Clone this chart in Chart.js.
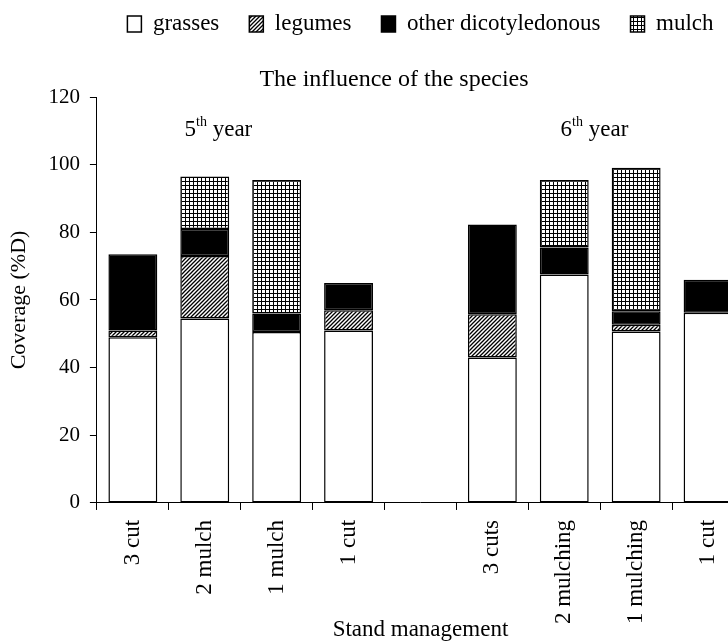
<!DOCTYPE html>
<html>
<head>
<meta charset="utf-8">
<script src="https://cdn.jsdelivr.net/npm/chart.js@4.4.1/dist/chart.umd.min.js"></script>
<style>
  html, body { margin: 0; padding: 0; background: #fff; overflow: hidden; }
  #wrap { width: 728px; height: 644px; overflow: hidden; }
</style>
</head>
<body>
<div id="wrap"><canvas id="chart" width="784" height="644"></canvas></div>
<script>
// Stand management categories (5th year, gap, 6th year)
const categories = ['3 cut', '2 mulch', '1 mulch', '1 cut', '', '3 cuts', '2 mulching', '1 mulching', '1 cut'];

// coverage (%D) per species group
const grasses    = [49,   54.5, 50.5, 51,  null, 43,   67.5, 50.7, 56.2];
const legumes    = [2,    18.5, null, 6,   null, 12.8, null, 2,    null];
const otherDicot = [22.5, 8,    5.5,  8,   null, 26.5, 8,    4,    9.8];
const mulch      = [null, 15.5, 39.5, null, null, null, 20,  42.4, null];

const yTicks = [0, 20, 40, 60, 80, 100, 120];

const FONT = '"Liberation Serif", "Times New Roman", serif';

// fill patterns
function hatchPattern() {
    const c = document.createElement('canvas');
    c.width = 4; c.height = 4;
    const g = c.getContext('2d');
    g.fillStyle = '#fff';
    g.fillRect(0, 0, 4, 4);
    g.strokeStyle = '#000';
    g.lineWidth = 1.3;
    g.beginPath();
    g.moveTo(-1, 5); g.lineTo(5, -1);
    g.moveTo(-1, 1); g.lineTo(1, -1);
    g.moveTo(3, 5); g.lineTo(5, 3);
    g.stroke();
    return g.createPattern(c, 'repeat');
}

function gridPattern() {
    const c = document.createElement('canvas');
    c.width = 4; c.height = 4;
    const g = c.getContext('2d');
    g.fillStyle = '#fff';
    g.fillRect(0, 0, 4, 4);
    g.fillStyle = '#000';
    g.fillRect(1, 0, 1, 4);
    g.fillRect(0, 1, 4, 1);
    return g.createPattern(c, 'repeat');
}

// "5th year" / "6th year" notes, placed by category index and value
const yearNotes = [
    { at: 1.19, value: 108.5, num: '5', sup: 'th', rest: ' year' },
    { at: 6.42, value: 108.5, num: '6', sup: 'th', rest: ' year' }
];

const yearNotePlugin = {
    id: 'yearNotes',
    afterLayout(chart) {
        // the title sits a little right of the canvas centre
        if (chart.titleBlock) chart.titleBlock.left = 44;
    },
    afterDatasetsDraw(chart) {
        const { ctx, scales } = chart;
        const x0 = scales.x.getPixelForValue(0);
        const step = scales.x.getPixelForValue(1) - x0;
        const big = '23px ' + FONT;
        const small = '14px ' + FONT;
        ctx.save();
        ctx.fillStyle = '#000';
        ctx.textBaseline = 'alphabetic';
        ctx.textAlign = 'left';
        yearNotes.forEach(n => {
            ctx.font = big;
            const w1 = ctx.measureText(n.num).width;
            const w3 = ctx.measureText(n.rest).width;
            ctx.font = small;
            const w2 = ctx.measureText(n.sup).width;
            let x = x0 + n.at * step - (w1 + w2 + w3) / 2;
            const y = scales.y.getPixelForValue(n.value);
            ctx.font = big;
            ctx.fillText(n.num, x, y);
            x += w1;
            ctx.font = small;
            ctx.fillText(n.sup, x, y - 10);
            x += w2;
            ctx.font = big;
            ctx.fillText(n.rest, x, y);
        });
        ctx.restore();
    }
};

const common = { borderColor: '#000', borderWidth: 1.5, borderSkipped: false, stack: 's' };

new Chart(document.getElementById('chart'), {
    type: 'bar',
    data: {
        labels: categories,
        datasets: [
            { label: 'grasses', data: grasses, backgroundColor: '#fff', ...common },
            { label: 'legumes', data: legumes, backgroundColor: hatchPattern(), ...common },
            { label: 'other dicotyledonous', data: otherDicot, backgroundColor: '#000', ...common },
            { label: 'mulch', data: mulch, backgroundColor: gridPattern(), ...common }
        ]
    },
    options: {
        responsive: false,
        animation: false,
        categoryPercentage: 1,
        barPercentage: 0.68,
        layout: { padding: { left: 6, right: 40, top: -17.5, bottom: 0 } },
        plugins: {
            legend: {
                position: 'top',
                fullSize: false,
                weight: 3000,
                labels: {
                    color: '#000',
                    font: { family: FONT, size: 23 },
                    boxWidth: 14,
                    boxHeight: 16,
                    padding: 30
                }
            },
            title: {
                display: true,
                text: 'The influence of the species',
                color: '#000',
                font: { family: FONT, size: 24, weight: 'normal' },
                padding: { top: 20, bottom: 2.7 }
            },
            tooltip: { enabled: false }
        },
        scales: {
            x: {
                stacked: true,
                grid: { display: true, drawOnChartArea: false, drawTicks: true, tickLength: 7, color: '#000', offset: true },
                border: { display: true, color: '#000', width: 1 },
                ticks: {
                    color: '#000',
                    font: { family: FONT, size: 23 },
                    minRotation: 90,
                    maxRotation: 90,
                    autoSkip: false,
                    padding: 10
                },
                title: {
                    display: true,
                    text: 'Stand management',
                    color: '#000',
                    font: { family: FONT, size: 23 },
                    padding: { top: -17.7, bottom: 0 }
                }
            },
            y: {
                stacked: true,
                min: 0,
                max: 120,
                afterBuildTicks: axis => { axis.ticks = yTicks.map(v => ({ value: v })); },
                grid: { display: true, drawOnChartArea: false, drawTicks: true, tickLength: 7, color: '#000' },
                border: { display: true, color: '#000', width: 1 },
                ticks: {
                    color: '#000',
                    font: { family: FONT, size: 21 },
                    padding: 10
                },
                title: {
                    display: true,
                    text: 'Coverage (%D)',
                    color: '#000',
                    font: { family: FONT, size: 22 },
                    padding: { top: 0, bottom: 6 }
                }
            }
        }
    },
    plugins: [yearNotePlugin]
});
</script>
</body>
</html>
